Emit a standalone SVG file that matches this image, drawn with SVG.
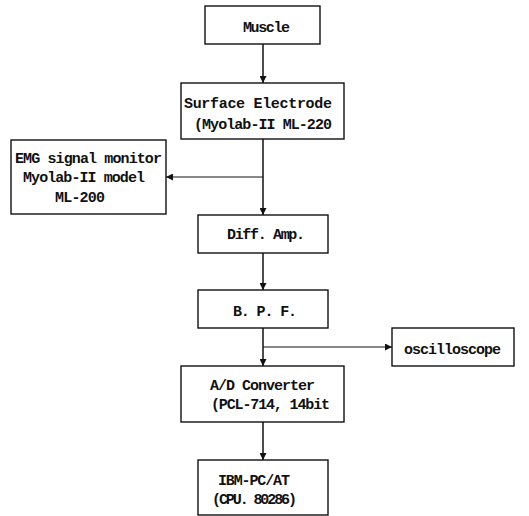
<svg xmlns="http://www.w3.org/2000/svg" width="529" height="516" viewBox="0 0 529 516">
<defs>
<marker id="ah" viewBox="0 0 10 10" refX="10" refY="5" markerWidth="7" markerHeight="7" markerUnits="userSpaceOnUse" orient="auto">
<path d="M0,0 L10,5 L0,10 z" fill="#111"/>
</marker>
<style>
.box{fill:#fff;stroke:#111;stroke-width:1.4}
.t{font-family:"Liberation Mono","DejaVu Sans Mono",monospace;font-size:15px;font-weight:bold;fill:#111}
.c{fill:none;stroke:#111;stroke-width:1.5}
.b{fill:none;stroke:#111;stroke-width:1}
</style>
</defs>
<rect width="529" height="516" fill="#fff"/>
<g id="connectors">
<line class="c" x1="263" y1="44" x2="263" y2="83" marker-end="url(#ah)"/>
<line class="c" x1="263" y1="139" x2="263" y2="215" marker-end="url(#ah)"/>
<line class="b" x1="263" y1="177" x2="166" y2="177" marker-end="url(#ah)"/>
<line class="c" x1="263" y1="253" x2="263" y2="290" marker-end="url(#ah)"/>
<line class="c" x1="263" y1="328" x2="263" y2="366" marker-end="url(#ah)"/>
<line class="b" x1="263" y1="347" x2="392" y2="347" marker-end="url(#ah)"/>
<line class="c" x1="263" y1="422" x2="263" y2="460" marker-end="url(#ah)"/>
</g>
<g id="muscle">
<rect class="box" x="205" y="6" width="115" height="38"/>
<text class="t" x="243" y="32" textLength="47">Muscle</text>
</g>
<g id="surface-electrode">
<rect class="box" x="181" y="83" width="163" height="56"/>
<text class="t" x="184" y="108" textLength="148">Surface Electrode</text>
<text class="t" x="194" y="129" textLength="138">(Myolab-II ML-220</text>
</g>
<g id="emg-monitor">
<rect class="box" x="11" y="140" width="155" height="74"/>
<text class="t" x="15" y="163" textLength="147">EMG signal monitor</text>
<text class="t" x="23" y="182" textLength="122">Myolab-II model</text>
<text class="t" x="55" y="202" textLength="50">ML-200</text>
</g>
<g id="diff-amp">
<rect class="box" x="198" y="215" width="130" height="38"/>
<text class="t" x="227" y="239" textLength="78">Diff. Amp.</text>
</g>
<g id="bpf">
<rect class="box" x="198" y="290" width="130" height="38"/>
<text class="t" x="233" y="316" textLength="64">B. P. F.</text>
</g>
<g id="oscilloscope">
<rect class="box" x="392" y="328" width="122" height="38"/>
<text class="t" x="404" y="354" textLength="97">oscilloscope</text>
</g>
<g id="ad-converter">
<rect class="box" x="181" y="366" width="163" height="56"/>
<text class="t" x="210" y="390" textLength="105">A/D Converter</text>
<text class="t" x="211" y="409" textLength="119">(PCL-714, 14bit</text>
</g>
<g id="ibm-pc">
<rect class="box" x="198" y="460" width="130" height="55"/>
<text class="t" x="218" y="485" textLength="72">IBM-PC/AT</text>
<text class="t" x="212" y="504" textLength="85">(CPU. 80286)</text>
</g>
</svg>
